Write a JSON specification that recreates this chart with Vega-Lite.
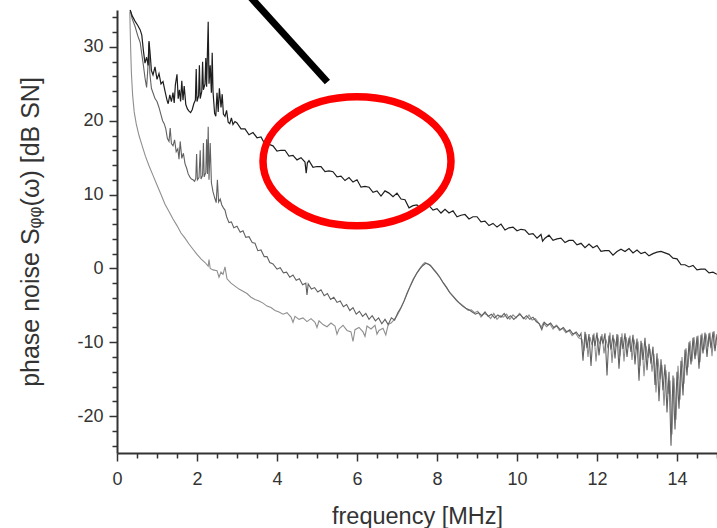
{
  "$schema": "https://vega.github.io/schema/vega-lite/v6.json",
  "width": 600,
  "height": 443,
  "autosize": {"type": "none"},
  "padding": {"left": 117, "top": 10, "right": 0, "bottom": 75},
  "background": "white",
  "config": {
    "view": {"stroke": null},
    "axis": {
      "grid": false,
      "domainColor": "#333333",
      "domainWidth": 2,
      "tickColor": "#333333",
      "tickWidth": 1.5,
      "labelFont": "Liberation Sans",
      "labelFontSize": 18,
      "labelColor": "#333333",
      "titleFont": "Liberation Sans",
      "titleFontWeight": "normal",
      "titleColor": "#333333"
    }
  },
  "datasets": {
    "dark": [
      {"f": 0.33, "s": 35.0}, {"f": 0.38, "s": 34.2}, {"f": 0.45, "s": 33.5}, {"f": 0.52, "s": 32.9}, {"f": 0.58, "s": 32.3},
      {"f": 0.62, "s": 31.6}, {"f": 0.66, "s": 29.5}, {"f": 0.70, "s": 27.8}, {"f": 0.74, "s": 28.6}, {"f": 0.78, "s": 27.5},
      {"f": 0.80, "s": 30.8}, {"f": 0.83, "s": 29.0}, {"f": 0.86, "s": 26.8}, {"f": 0.90, "s": 26.2}, {"f": 0.95, "s": 27.3},
      {"f": 1.00, "s": 25.6}, {"f": 1.05, "s": 26.4}, {"f": 1.10, "s": 25.0}, {"f": 1.15, "s": 25.3}, {"f": 1.20, "s": 24.0},
      {"f": 1.25, "s": 22.8}, {"f": 1.28, "s": 22.3}, {"f": 1.32, "s": 23.5}, {"f": 1.36, "s": 22.6}, {"f": 1.40, "s": 23.8},
      {"f": 1.43, "s": 22.4}, {"f": 1.46, "s": 24.9}, {"f": 1.50, "s": 26.3}, {"f": 1.53, "s": 23.0}, {"f": 1.56, "s": 24.2},
      {"f": 1.59, "s": 22.6}, {"f": 1.62, "s": 25.4}, {"f": 1.65, "s": 22.8}, {"f": 1.68, "s": 24.7}, {"f": 1.72, "s": 22.2},
      {"f": 1.76, "s": 21.6}, {"f": 1.80, "s": 21.3}, {"f": 1.84, "s": 21.1}, {"f": 1.88, "s": 21.5}, {"f": 1.92, "s": 22.3},
      {"f": 1.96, "s": 22.8}, {"f": 1.98, "s": 27.0}, {"f": 2.00, "s": 22.6}, {"f": 2.04, "s": 23.4}, {"f": 2.06, "s": 27.5},
      {"f": 2.08, "s": 23.0}, {"f": 2.12, "s": 24.0}, {"f": 2.14, "s": 28.0}, {"f": 2.16, "s": 24.2}, {"f": 2.20, "s": 25.0},
      {"f": 2.22, "s": 28.5}, {"f": 2.24, "s": 24.6}, {"f": 2.26, "s": 29.0}, {"f": 2.28, "s": 33.4}, {"f": 2.30, "s": 25.0},
      {"f": 2.33, "s": 27.5}, {"f": 2.36, "s": 23.8}, {"f": 2.38, "s": 29.2}, {"f": 2.40, "s": 24.0}, {"f": 2.44, "s": 21.0},
      {"f": 2.47, "s": 20.6}, {"f": 2.50, "s": 23.8}, {"f": 2.53, "s": 21.2}, {"f": 2.56, "s": 24.4}, {"f": 2.60, "s": 21.8},
      {"f": 2.63, "s": 23.6}, {"f": 2.66, "s": 20.9}, {"f": 2.70, "s": 20.6}, {"f": 2.74, "s": 21.4}, {"f": 2.78, "s": 19.8},
      {"f": 2.82, "s": 19.6}, {"f": 2.86, "s": 20.4}, {"f": 2.90, "s": 19.5}, {"f": 2.95, "s": 19.9},
      {"f": 3.0, "s": 19.7}, {"f": 3.1, "s": 18.9}, {"f": 3.2, "s": 18.9}, {"f": 3.3, "s": 18.1}, {"f": 3.4, "s": 18.4},
      {"f": 3.5, "s": 17.7}, {"f": 3.6, "s": 17.8}, {"f": 3.7, "s": 16.8}, {"f": 3.8, "s": 16.8}, {"f": 3.9, "s": 16.6},
      {"f": 4.0, "s": 15.9}, {"f": 4.1, "s": 16.0}, {"f": 4.2, "s": 16.0}, {"f": 4.3, "s": 15.2}, {"f": 4.4, "s": 15.3},
      {"f": 4.5, "s": 14.7}, {"f": 4.6, "s": 15.0}, {"f": 4.7, "s": 14.4}, {"f": 4.73, "s": 12.9}, {"f": 4.76, "s": 14.3},
      {"f": 4.8, "s": 14.6}, {"f": 4.9, "s": 13.7}, {"f": 5.0, "s": 13.8}, {"f": 5.1, "s": 13.8}, {"f": 5.2, "s": 13.1},
      {"f": 5.3, "s": 13.2}, {"f": 5.4, "s": 13.1}, {"f": 5.5, "s": 12.4}, {"f": 5.6, "s": 12.5}, {"f": 5.7, "s": 11.9},
      {"f": 5.8, "s": 12.3}, {"f": 5.9, "s": 11.7}, {"f": 6.0, "s": 12.0}, {"f": 6.1, "s": 11.0}, {"f": 6.2, "s": 11.1},
      {"f": 6.3, "s": 11.0}, {"f": 6.4, "s": 10.3}, {"f": 6.5, "s": 10.5}, {"f": 6.6, "s": 9.8}, {"f": 6.7, "s": 10.5},
      {"f": 6.8, "s": 10.2}, {"f": 6.9, "s": 9.7}, {"f": 7.0, "s": 10.2}, {"f": 7.1, "s": 9.4}, {"f": 7.2, "s": 9.3},
      {"f": 7.3, "s": 8.2}, {"f": 7.4, "s": 8.5}, {"f": 7.5, "s": 8.6}, {"f": 7.6, "s": 8.1}, {"f": 7.7, "s": 8.4},
      {"f": 7.8, "s": 8.5}, {"f": 7.9, "s": 7.9}, {"f": 8.0, "s": 8.1}, {"f": 8.1, "s": 7.5}, {"f": 8.2, "s": 8.0},
      {"f": 8.3, "s": 7.5}, {"f": 8.4, "s": 7.8}, {"f": 8.5, "s": 7.0}, {"f": 8.6, "s": 7.2}, {"f": 8.7, "s": 7.3},
      {"f": 8.8, "s": 6.7}, {"f": 8.9, "s": 7.0}, {"f": 9.0, "s": 7.0}, {"f": 9.1, "s": 6.3}, {"f": 9.2, "s": 6.4},
      {"f": 9.3, "s": 5.8}, {"f": 9.4, "s": 6.1}, {"f": 9.5, "s": 5.6}, {"f": 9.6, "s": 6.0}, {"f": 9.7, "s": 5.2},
      {"f": 9.8, "s": 5.5}, {"f": 9.9, "s": 5.6}, {"f": 10.0, "s": 5.1}, {"f": 10.1, "s": 5.3}, {"f": 10.2, "s": 5.2},
      {"f": 10.3, "s": 4.6}, {"f": 10.4, "s": 4.7}, {"f": 10.5, "s": 4.1}, {"f": 10.6, "s": 4.6}, {"f": 10.64, "s": 3.7},
      {"f": 10.7, "s": 4.1}, {"f": 10.8, "s": 4.5}, {"f": 10.9, "s": 3.8}, {"f": 11.0, "s": 4.0}, {"f": 11.1, "s": 4.1},
      {"f": 11.2, "s": 3.5}, {"f": 11.3, "s": 3.8}, {"f": 11.4, "s": 3.8}, {"f": 11.5, "s": 3.2}, {"f": 11.6, "s": 3.4},
      {"f": 11.7, "s": 2.8}, {"f": 11.8, "s": 3.3}, {"f": 11.9, "s": 2.8}, {"f": 12.0, "s": 3.1}, {"f": 12.1, "s": 2.3},
      {"f": 12.2, "s": 2.4}, {"f": 12.3, "s": 2.4}, {"f": 12.4, "s": 1.8}, {"f": 12.5, "s": 2.3}, {"f": 12.6, "s": 2.6},
      {"f": 12.7, "s": 2.3}, {"f": 12.8, "s": 2.7}, {"f": 12.9, "s": 2.1}, {"f": 13.0, "s": 2.5}, {"f": 13.1, "s": 2.0},
      {"f": 13.2, "s": 2.2}, {"f": 13.3, "s": 1.7}, {"f": 13.4, "s": 2.0}, {"f": 13.5, "s": 2.2}, {"f": 13.6, "s": 2.3},
      {"f": 13.7, "s": 2.1}, {"f": 13.8, "s": 1.9}, {"f": 13.9, "s": 1.4}, {"f": 14.0, "s": 1.3}, {"f": 14.1, "s": 0.5},
      {"f": 14.2, "s": 0.5}, {"f": 14.3, "s": 0.2}, {"f": 14.4, "s": 0.4}, {"f": 14.5, "s": -0.2}, {"f": 14.6, "s": -0.1},
      {"f": 14.7, "s": -0.1}, {"f": 14.8, "s": -0.6}, {"f": 14.9, "s": -0.5}, {"f": 15.0, "s": -0.8}
    ],
    "mid": [
      {"f": 0.33, "s": 35.0}, {"f": 0.38, "s": 33.8}, {"f": 0.45, "s": 32.8}, {"f": 0.52, "s": 31.5}, {"f": 0.58, "s": 30.6},
      {"f": 0.62, "s": 29.0}, {"f": 0.66, "s": 27.5}, {"f": 0.70, "s": 25.8}, {"f": 0.74, "s": 24.5}, {"f": 0.77, "s": 27.0},
      {"f": 0.80, "s": 30.6}, {"f": 0.82, "s": 26.5}, {"f": 0.86, "s": 24.4}, {"f": 0.90, "s": 23.8}, {"f": 0.95, "s": 23.0},
      {"f": 1.00, "s": 22.6}, {"f": 1.05, "s": 21.8}, {"f": 1.10, "s": 20.8}, {"f": 1.14, "s": 20.0}, {"f": 1.18, "s": 19.6},
      {"f": 1.22, "s": 18.9}, {"f": 1.26, "s": 17.6}, {"f": 1.30, "s": 17.2}, {"f": 1.33, "s": 19.0}, {"f": 1.36, "s": 16.9},
      {"f": 1.40, "s": 16.6}, {"f": 1.44, "s": 17.4}, {"f": 1.48, "s": 15.8}, {"f": 1.52, "s": 16.2}, {"f": 1.55, "s": 14.8},
      {"f": 1.58, "s": 17.2}, {"f": 1.62, "s": 14.9}, {"f": 1.66, "s": 15.6}, {"f": 1.70, "s": 14.2}, {"f": 1.74, "s": 13.6},
      {"f": 1.78, "s": 12.8}, {"f": 1.82, "s": 12.4}, {"f": 1.86, "s": 12.1}, {"f": 1.90, "s": 12.0}, {"f": 1.94, "s": 11.8},
      {"f": 1.97, "s": 12.2}, {"f": 1.99, "s": 15.5}, {"f": 2.01, "s": 12.0}, {"f": 2.05, "s": 12.3}, {"f": 2.08, "s": 16.0},
      {"f": 2.10, "s": 12.1}, {"f": 2.14, "s": 12.6}, {"f": 2.16, "s": 17.0}, {"f": 2.18, "s": 12.4}, {"f": 2.22, "s": 13.0},
      {"f": 2.24, "s": 17.5}, {"f": 2.26, "s": 12.8}, {"f": 2.28, "s": 19.2}, {"f": 2.30, "s": 12.0}, {"f": 2.33, "s": 17.0},
      {"f": 2.36, "s": 11.6}, {"f": 2.40, "s": 10.4}, {"f": 2.44, "s": 9.6}, {"f": 2.48, "s": 8.9}, {"f": 2.51, "s": 12.0},
      {"f": 2.54, "s": 9.0}, {"f": 2.58, "s": 9.4}, {"f": 2.62, "s": 8.6}, {"f": 2.66, "s": 8.2}, {"f": 2.70, "s": 7.9},
      {"f": 2.74, "s": 7.0}, {"f": 2.80, "s": 6.2}, {"f": 2.86, "s": 6.3}, {"f": 2.92, "s": 5.5}, {"f": 3.00, "s": 5.7},
      {"f": 3.08, "s": 4.9}, {"f": 3.15, "s": 5.1}, {"f": 3.22, "s": 4.2}, {"f": 3.30, "s": 4.3}, {"f": 3.38, "s": 3.5},
      {"f": 3.45, "s": 3.4}, {"f": 3.52, "s": 2.4}, {"f": 3.60, "s": 2.5}, {"f": 3.68, "s": 1.6}, {"f": 3.75, "s": 1.6},
      {"f": 3.82, "s": 0.8}, {"f": 3.90, "s": 0.6}, {"f": 4.00, "s": -0.1}, {"f": 4.08, "s": 0.1}, {"f": 4.16, "s": -0.6},
      {"f": 4.24, "s": -0.5}, {"f": 4.32, "s": -1.2}, {"f": 4.40, "s": -0.9}, {"f": 4.48, "s": -1.6}, {"f": 4.56, "s": -1.4},
      {"f": 4.64, "s": -2.2}, {"f": 4.72, "s": -2.0}, {"f": 4.75, "s": -3.6}, {"f": 4.78, "s": -2.1}, {"f": 4.86, "s": -2.8},
      {"f": 4.94, "s": -2.6}, {"f": 5.02, "s": -3.2}, {"f": 5.10, "s": -2.9}, {"f": 5.18, "s": -3.7}, {"f": 5.26, "s": -3.4},
      {"f": 5.34, "s": -4.2}, {"f": 5.42, "s": -3.9}, {"f": 5.50, "s": -4.6}, {"f": 5.58, "s": -4.4}, {"f": 5.66, "s": -5.2},
      {"f": 5.74, "s": -4.9}, {"f": 5.82, "s": -5.7}, {"f": 5.90, "s": -5.3}, {"f": 5.98, "s": -6.2}, {"f": 6.06, "s": -5.8},
      {"f": 6.14, "s": -6.5}, {"f": 6.22, "s": -6.1}, {"f": 6.30, "s": -6.9}, {"f": 6.38, "s": -6.4}, {"f": 6.46, "s": -7.1},
      {"f": 6.54, "s": -6.7}, {"f": 6.62, "s": -7.5}, {"f": 6.70, "s": -6.9}, {"f": 6.78, "s": -7.6}, {"f": 6.86, "s": -6.7},
      {"f": 6.94, "s": -7.0}, {"f": 7.02, "s": -6.0}, {"f": 7.10, "s": -5.3}, {"f": 7.18, "s": -4.4}, {"f": 7.26, "s": -3.3},
      {"f": 7.34, "s": -2.3}, {"f": 7.42, "s": -1.4}, {"f": 7.50, "s": -0.6}, {"f": 7.58, "s": 0.0}, {"f": 7.65, "s": 0.4},
      {"f": 7.72, "s": 0.7}, {"f": 7.78, "s": 0.6}, {"f": 7.85, "s": 0.3}, {"f": 7.92, "s": -0.2}, {"f": 8.00, "s": -0.7},
      {"f": 8.08, "s": -1.3}, {"f": 8.16, "s": -2.0}, {"f": 8.24, "s": -2.6}, {"f": 8.32, "s": -3.3}, {"f": 8.40, "s": -3.8},
      {"f": 8.48, "s": -4.3}, {"f": 8.56, "s": -4.7}, {"f": 8.64, "s": -5.1}, {"f": 8.72, "s": -5.4}, {"f": 8.80, "s": -5.6},
      {"f": 8.88, "s": -5.9}, {"f": 8.96, "s": -6.2}, {"f": 9.04, "s": -6.0}, {"f": 9.12, "s": -6.4}, {"f": 9.20, "s": -5.9},
      {"f": 9.28, "s": -6.5}, {"f": 9.36, "s": -6.2}, {"f": 9.44, "s": -6.7}, {"f": 9.52, "s": -6.3}, {"f": 9.60, "s": -6.6},
      {"f": 9.68, "s": -6.1}, {"f": 9.76, "s": -6.8}, {"f": 9.84, "s": -6.4}, {"f": 9.92, "s": -6.9}, {"f": 10.00, "s": -6.5},
      {"f": 10.08, "s": -6.2}, {"f": 10.16, "s": -6.8}, {"f": 10.24, "s": -6.4}, {"f": 10.32, "s": -6.9}, {"f": 10.40, "s": -6.6},
      {"f": 10.48, "s": -7.2}, {"f": 10.56, "s": -7.5}, {"f": 10.62, "s": -8.3}, {"f": 10.68, "s": -7.3}, {"f": 10.76, "s": -7.7},
      {"f": 10.84, "s": -7.4}, {"f": 10.92, "s": -8.0}, {"f": 11.00, "s": -7.8}, {"f": 11.08, "s": -8.3}, {"f": 11.16, "s": -8.0},
      {"f": 11.24, "s": -8.6}, {"f": 11.32, "s": -8.3}, {"f": 11.40, "s": -8.9}, {"f": 11.48, "s": -8.6}, {"f": 11.56, "s": -9.2},
      {"f": 11.60, "s": -8.8}, {"f": 11.65, "s": -12.5}, {"f": 11.70, "s": -8.6}, {"f": 11.75, "s": -10.8}, {"f": 11.80, "s": -8.9},
      {"f": 11.85, "s": -13.2}, {"f": 11.90, "s": -9.0}, {"f": 11.95, "s": -10.5}, {"f": 12.00, "s": -8.7}, {"f": 12.05, "s": -11.8},
      {"f": 12.10, "s": -9.2}, {"f": 12.15, "s": -10.2}, {"f": 12.20, "s": -8.8}, {"f": 12.25, "s": -14.5}, {"f": 12.30, "s": -9.1},
      {"f": 12.35, "s": -11.0}, {"f": 12.40, "s": -9.0}, {"f": 12.45, "s": -12.2}, {"f": 12.50, "s": -8.9}, {"f": 12.55, "s": -13.6},
      {"f": 12.60, "s": -9.3}, {"f": 12.65, "s": -10.9}, {"f": 12.70, "s": -8.8}, {"f": 12.75, "s": -12.0}, {"f": 12.80, "s": -9.4},
      {"f": 12.85, "s": -11.3}, {"f": 12.90, "s": -9.0}, {"f": 12.95, "s": -13.0}, {"f": 13.00, "s": -9.5}, {"f": 13.05, "s": -15.2},
      {"f": 13.10, "s": -9.8}, {"f": 13.15, "s": -12.4}, {"f": 13.20, "s": -9.4}, {"f": 13.25, "s": -13.8}, {"f": 13.30, "s": -10.2},
      {"f": 13.35, "s": -12.9}, {"f": 13.40, "s": -10.6}, {"f": 13.45, "s": -15.8}, {"f": 13.50, "s": -11.5}, {"f": 13.55, "s": -18.0},
      {"f": 13.60, "s": -12.3}, {"f": 13.65, "s": -16.5}, {"f": 13.70, "s": -13.0}, {"f": 13.75, "s": -19.5}, {"f": 13.80, "s": -14.0},
      {"f": 13.85, "s": -24.0}, {"f": 13.90, "s": -14.5}, {"f": 13.95, "s": -21.8}, {"f": 14.00, "s": -14.0}, {"f": 14.05, "s": -19.0},
      {"f": 14.10, "s": -12.5}, {"f": 14.15, "s": -17.2}, {"f": 14.20, "s": -11.0}, {"f": 14.25, "s": -14.5}, {"f": 14.30, "s": -10.0},
      {"f": 14.35, "s": -13.0}, {"f": 14.40, "s": -9.4}, {"f": 14.45, "s": -12.3}, {"f": 14.50, "s": -9.2}, {"f": 14.55, "s": -13.6},
      {"f": 14.60, "s": -9.0}, {"f": 14.65, "s": -11.5}, {"f": 14.70, "s": -8.7}, {"f": 14.75, "s": -12.0}, {"f": 14.80, "s": -8.8},
      {"f": 14.85, "s": -10.8}, {"f": 14.90, "s": -8.6}, {"f": 14.95, "s": -11.2}, {"f": 15.00, "s": -8.9}
    ],
    "light": [
      {"f": 0.32, "s": 34.8}, {"f": 0.34, "s": 30.0}, {"f": 0.36, "s": 26.5}, {"f": 0.39, "s": 23.5}, {"f": 0.43, "s": 21.2},
      {"f": 0.48, "s": 19.6}, {"f": 0.55, "s": 18.0}, {"f": 0.63, "s": 16.6}, {"f": 0.71, "s": 15.2}, {"f": 0.80, "s": 13.9},
      {"f": 0.90, "s": 12.6}, {"f": 1.00, "s": 11.3}, {"f": 1.10, "s": 10.0}, {"f": 1.20, "s": 8.7}, {"f": 1.30, "s": 7.7},
      {"f": 1.40, "s": 6.7}, {"f": 1.50, "s": 5.8}, {"f": 1.60, "s": 4.8}, {"f": 1.70, "s": 4.1}, {"f": 1.80, "s": 3.3},
      {"f": 1.90, "s": 2.6}, {"f": 2.00, "s": 1.9}, {"f": 2.10, "s": 1.3}, {"f": 2.20, "s": 0.8}, {"f": 2.28, "s": 0.3},
      {"f": 2.30, "s": 1.2}, {"f": 2.33, "s": 0.0}, {"f": 2.40, "s": -0.2}, {"f": 2.50, "s": -0.3}, {"f": 2.55, "s": -1.2},
      {"f": 2.60, "s": -0.5}, {"f": 2.65, "s": -0.8}, {"f": 2.70, "s": 0.2}, {"f": 2.75, "s": -1.4}, {"f": 2.85, "s": -2.0},
      {"f": 2.95, "s": -2.4}, {"f": 3.05, "s": -2.8}, {"f": 3.15, "s": -3.1}, {"f": 3.25, "s": -3.4}, {"f": 3.35, "s": -3.9},
      {"f": 3.45, "s": -4.2}, {"f": 3.55, "s": -4.4}, {"f": 3.65, "s": -4.7}, {"f": 3.75, "s": -5.1}, {"f": 3.85, "s": -5.3},
      {"f": 3.95, "s": -5.7}, {"f": 4.05, "s": -5.9}, {"f": 4.15, "s": -6.2}, {"f": 4.25, "s": -6.0}, {"f": 4.35, "s": -6.6},
      {"f": 4.40, "s": -7.3}, {"f": 4.45, "s": -6.5}, {"f": 4.55, "s": -6.9}, {"f": 4.65, "s": -6.7}, {"f": 4.75, "s": -7.2},
      {"f": 4.85, "s": -6.8}, {"f": 4.95, "s": -7.3}, {"f": 5.00, "s": -8.0}, {"f": 5.05, "s": -7.1}, {"f": 5.15, "s": -7.6},
      {"f": 5.25, "s": -7.9}, {"f": 5.35, "s": -7.4}, {"f": 5.45, "s": -7.8}, {"f": 5.50, "s": -8.9}, {"f": 5.55, "s": -8.2},
      {"f": 5.65, "s": -7.7}, {"f": 5.75, "s": -8.4}, {"f": 5.85, "s": -8.6}, {"f": 5.90, "s": -9.9}, {"f": 5.95, "s": -8.3},
      {"f": 6.05, "s": -8.0}, {"f": 6.15, "s": -8.6}, {"f": 6.20, "s": -9.2}, {"f": 6.25, "s": -7.8}, {"f": 6.35, "s": -8.2},
      {"f": 6.45, "s": -7.7}, {"f": 6.50, "s": -8.9}, {"f": 6.55, "s": -8.4}, {"f": 6.65, "s": -8.1}, {"f": 6.72, "s": -9.0},
      {"f": 6.78, "s": -7.6}, {"f": 6.85, "s": -7.4}, {"f": 6.92, "s": -7.0}, {"f": 7.00, "s": -6.4}, {"f": 7.08, "s": -5.6},
      {"f": 7.16, "s": -4.6}, {"f": 7.24, "s": -3.5}, {"f": 7.32, "s": -2.5}, {"f": 7.40, "s": -1.5}, {"f": 7.48, "s": -0.8},
      {"f": 7.56, "s": -0.1}, {"f": 7.64, "s": 0.5}, {"f": 7.70, "s": 0.8}, {"f": 7.76, "s": 0.6}, {"f": 7.82, "s": 0.5},
      {"f": 7.90, "s": 0.0}, {"f": 7.98, "s": -0.5}, {"f": 8.06, "s": -1.1}, {"f": 8.14, "s": -1.8}, {"f": 8.22, "s": -2.4},
      {"f": 8.30, "s": -3.1}, {"f": 8.38, "s": -3.6}, {"f": 8.46, "s": -4.1}, {"f": 8.54, "s": -4.6}, {"f": 8.62, "s": -4.9},
      {"f": 8.70, "s": -5.3}, {"f": 8.78, "s": -5.7}, {"f": 8.86, "s": -5.6}, {"f": 8.94, "s": -6.0}, {"f": 9.02, "s": -5.8},
      {"f": 9.10, "s": -6.6}, {"f": 9.18, "s": -6.1}, {"f": 9.26, "s": -6.3}, {"f": 9.34, "s": -6.8}, {"f": 9.42, "s": -6.1},
      {"f": 9.50, "s": -6.9}, {"f": 9.58, "s": -6.4}, {"f": 9.66, "s": -6.6}, {"f": 9.74, "s": -6.2}, {"f": 9.82, "s": -6.9},
      {"f": 9.90, "s": -6.3}, {"f": 9.98, "s": -6.7}, {"f": 10.06, "s": -6.1}, {"f": 10.14, "s": -6.6}, {"f": 10.22, "s": -6.9},
      {"f": 10.30, "s": -6.3}, {"f": 10.38, "s": -7.0}, {"f": 10.46, "s": -6.8}, {"f": 10.54, "s": -7.4}, {"f": 10.60, "s": -8.0},
      {"f": 10.66, "s": -7.4}, {"f": 10.74, "s": -7.9}, {"f": 10.82, "s": -7.5}, {"f": 10.90, "s": -8.2}, {"f": 10.98, "s": -7.7},
      {"f": 11.06, "s": -8.4}, {"f": 11.14, "s": -8.1}, {"f": 11.22, "s": -8.7}, {"f": 11.30, "s": -8.4}, {"f": 11.38, "s": -9.1},
      {"f": 11.46, "s": -8.7}, {"f": 11.54, "s": -9.4}, {"f": 11.625, "s": -9.6}, {"f": 11.675, "s": -11.2}, {"f": 11.725, "s": -8.9},
      {"f": 11.775, "s": -12.0}, {"f": 11.825, "s": -9.3}, {"f": 11.875, "s": -10.4}, {"f": 11.925, "s": -8.8}, {"f": 11.975, "s": -12.6},
      {"f": 12.025, "s": -9.4}, {"f": 12.075, "s": -10.3}, {"f": 12.125, "s": -8.9}, {"f": 12.175, "s": -11.5}, {"f": 12.225, "s": -9.6},
      {"f": 12.275, "s": -10.8}, {"f": 12.325, "s": -8.7}, {"f": 12.375, "s": -12.8}, {"f": 12.425, "s": -9.5}, {"f": 12.475, "s": -10.6},
      {"f": 12.525, "s": -9.0}, {"f": 12.575, "s": -11.9}, {"f": 12.625, "s": -8.8}, {"f": 12.675, "s": -12.6}, {"f": 12.725, "s": -9.3},
      {"f": 12.775, "s": -10.7}, {"f": 12.825, "s": -9.1}, {"f": 12.875, "s": -12.4}, {"f": 12.925, "s": -9.6}, {"f": 12.975, "s": -11.0},
      {"f": 13.025, "s": -9.9}, {"f": 13.075, "s": -13.2}, {"f": 13.125, "s": -10.1}, {"f": 13.175, "s": -14.6}, {"f": 13.225, "s": -10.5},
      {"f": 13.275, "s": -12.1}, {"f": 13.325, "s": -10.9}, {"f": 13.375, "s": -14.0}, {"f": 13.425, "s": -11.6}, {"f": 13.475, "s": -16.8},
      {"f": 13.525, "s": -12.2}, {"f": 13.575, "s": -15.0}, {"f": 13.625, "s": -13.1}, {"f": 13.675, "s": -18.6}, {"f": 13.725, "s": -13.8},
      {"f": 13.775, "s": -17.0}, {"f": 13.825, "s": -15.2}, {"f": 13.875, "s": -22.5}, {"f": 13.925, "s": -14.8}, {"f": 13.975, "s": -20.5},
      {"f": 14.025, "s": -13.2}, {"f": 14.075, "s": -17.8}, {"f": 14.125, "s": -12.0}, {"f": 14.175, "s": -15.6}, {"f": 14.225, "s": -10.8},
      {"f": 14.275, "s": -13.4}, {"f": 14.325, "s": -9.8}, {"f": 14.375, "s": -12.6}, {"f": 14.425, "s": -9.3}, {"f": 14.475, "s": -11.8},
      {"f": 14.525, "s": -9.1}, {"f": 14.575, "s": -12.7}, {"f": 14.625, "s": -8.8}, {"f": 14.675, "s": -11.0}, {"f": 14.725, "s": -8.9},
      {"f": 14.775, "s": -10.6}, {"f": 14.825, "s": -8.7}, {"f": 14.875, "s": -11.9}, {"f": 14.925, "s": -8.5}, {"f": 14.975, "s": -10.4}
    ]
  },
  "layer": [
    {
      "data": {"name": "light"},
      "mark": {"type": "line", "color": "#8f8f8f", "strokeWidth": 1.1, "interpolate": "linear"},
      "encoding": {
        "x": {
          "field": "f",
          "type": "quantitative",
          "scale": {"domain": [0, 15], "nice": false, "zero": false},
          "axis": {
            "title": "frequency [MHz]",
            "titleFontSize": 23.5,
            "titlePadding": 16,
            "labelPadding": 9,
            "labelOverlap": false,
            "labelFlush": false,
            "tickCount": 200,
            "values": [0, 0.5, 1, 1.5, 2, 2.5, 3, 3.5, 4, 4.5, 5, 5.5, 6, 6.5, 7, 7.5, 8, 8.5, 9, 9.5, 10, 10.5, 11, 11.5, 12, 12.5, 13, 13.5, 14, 14.5, 15],
            "labelExpr": "datum.value % 2 === 0 ? '' + datum.value : ''",
            "tickSize": {"condition": {"test": "datum.value % 2 === 0", "value": 8}, "value": 5}
          }
        },
        "y": {
          "field": "s",
          "type": "quantitative",
          "scale": {"domain": [-25, 35], "nice": false, "zero": false},
          "axis": {
            "title": "phase noise Sᵩᵩ(ω) [dB SN]",
            "titleFontSize": 25,
            "titlePadding": 33,
            "labelPadding": 6,
            "labelOverlap": false,
            "labelFlush": false,
            "tickCount": 200,
            "values": [-24, -22, -20, -18, -16, -14, -12, -10, -8, -6, -4, -2, 0, 2, 4, 6, 8, 10, 12, 14, 16, 18, 20, 22, 24, 26, 28, 30, 32, 34],
            "labelExpr": "datum.value % 10 === 0 ? '' + datum.value : ''",
            "tickSize": {"condition": {"test": "datum.value % 10 === 0", "value": 8}, "value": 5}
          }
        }
      }
    },
    {
      "data": {"name": "mid"},
      "mark": {"type": "line", "color": "#616161", "strokeWidth": 1.1},
      "encoding": {
        "x": {"field": "f", "type": "quantitative"},
        "y": {"field": "s", "type": "quantitative"}
      }
    },
    {
      "data": {"name": "dark"},
      "mark": {"type": "line", "color": "#1e1e1e", "strokeWidth": 1.2},
      "encoding": {
        "x": {"field": "f", "type": "quantitative"},
        "y": {"field": "s", "type": "quantitative"}
      }
    },
    {
      "mark": {"type": "rule", "color": "#555555", "strokeWidth": 2.2},
      "encoding": {"y": {"datum": 0, "type": "quantitative"}}
    },
    {
      "data": {"values": [{"f": 6.0, "s": 14.5}]},
      "mark": {
        "type": "point",
        "shape": "M 1 0 C 1 0.3789 0.5523 0.686 0 0.686 C -0.5523 0.686 -1 0.3789 -1 0 C -1 -0.3789 -0.5523 -0.686 0 -0.686 C 0.5523 -0.686 1 -0.3789 1 0 Z",
        "size": 35344,
        "filled": false,
        "stroke": "#ff0000",
        "strokeWidth": 7.5,
        "opacity": 1
      },
      "encoding": {
        "x": {"field": "f", "type": "quantitative"},
        "y": {"field": "s", "type": "quantitative"}
      }
    },
    {
      "data": {"values": [{"f": 3.295, "s": 37.0, "f2": 5.26, "s2": 25.25}]},
      "mark": {"type": "rule", "color": "#000000", "strokeWidth": 7, "clip": false},
      "encoding": {
        "x": {"field": "f", "type": "quantitative"},
        "y": {"field": "s", "type": "quantitative"},
        "x2": {"field": "f2"},
        "y2": {"field": "s2"}
      }
    }
  ]
}
